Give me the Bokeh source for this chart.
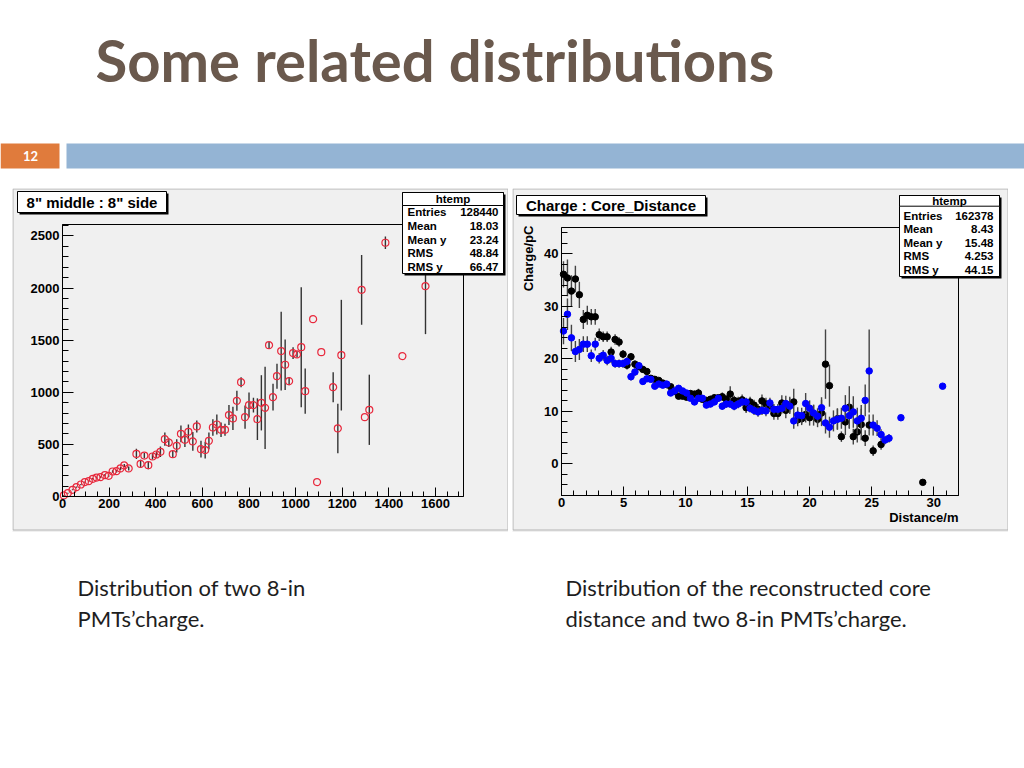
from bokeh.plotting import figure
from bokeh.models import (Range1d, FixedTicker, Label, BoxAnnotation, ColumnDataSource, Spacer,
                          LinearAxis)
from bokeh.layouts import column, row
from bokeh.embed import file_html
from bokeh.resources import INLINE
from bokeh.core.properties import value

# ---------------- data ----------------
slide_title = "Some related distributions"
slide_number = "12"
caption_left = ["Distribution of two 8-in", "PMTs\u2019charge."]
caption_right = ["Distribution of the reconstructed core", "distance and two 8-in PMTs\u2019charge."]

# left: 8" middle vs 8" side charge profile
mid_x = [6, 23, 43, 60, 79, 96, 113, 130, 146, 163, 182, 198, 215, 232, 249, 265, 284,
         317, 335, 351, 368, 386, 403, 420, 439, 456, 473, 490, 508, 525, 540, 559, 576,
         594, 612, 628, 645, 662, 680, 697, 714, 731, 748, 766, 783, 800, 819, 836, 853,
         869, 886, 903, 920, 938, 955, 972, 989, 1006, 1024, 1041, 1075, 1092, 1110, 1161,
         1181, 1196, 1283, 1297, 1316, 1385, 1458, 1557]
mid_y = [10, 32, 64, 90, 115, 138, 147, 170, 182, 186, 205, 198, 240, 243, 269, 298, 269,
         409, 313, 393, 301, 384, 403, 429, 550, 518, 406, 486, 601, 544, 621, 528, 672,
         454, 445, 534, 662, 691, 640, 640, 781, 749, 918, 1097, 761, 877, 877, 742, 899,
         851, 1452, 953, 1155, 1395, 1264, 1107, 1376, 1363, 1433, 1011, 1702, 138, 1385, 1049,
         653, 1356, 1983, 761, 832, 2435, 1347, 2018]
mid_err = [5, 5, 5, 5, 6, 6, 6, 8, 8, 8, 10, 10, 12, 12, 14, 15, 20,
           48, 40, 25, 40, 30, 30, 50, 64, 42, 30, 64, 80, 70, 70, 90, 58,
           80, 80, 80, 80, 96, 70, 58, 96, 112, 96, 48, 112, 120, 70, 200, 265,
           395, 30, 128, 120, 377, 243, 40, 56, 30, 576, 217, 0, 0, 0, 144,
           237, 531, 335, 0, 337, 61, 0, 460]
left_stats = [("Entries", "128440"), ("Mean", "18.03"), ("Mean y", "23.24"),
              ("RMS", "48.84"), ("RMS y", "66.47")]

# right: charge vs core distance, two PMTs
black_x = [0.16, 0.48, 0.80, 1.12, 1.44, 1.76, 2.08, 2.40, 2.72, 3.04,
           3.36, 3.68, 4.00, 4.32, 4.64, 4.96, 5.28, 5.60, 5.92, 6.24,
           6.56, 6.88, 7.20, 7.52, 7.84, 8.16, 8.48, 8.80, 9.12, 9.44,
           9.76, 10.08, 10.40, 10.72, 11.04, 11.36, 11.68, 12.00, 12.32, 12.64,
           12.96, 13.28, 13.60, 13.92, 14.24, 14.56, 14.88, 15.20, 15.52, 15.84,
           16.16, 16.48, 16.80, 17.12, 17.44, 17.76, 18.08, 18.40, 18.72, 19.04,
           19.36, 19.68, 20.00, 20.32, 20.64, 20.96, 21.28, 21.60, 22.24, 22.56,
           22.88, 23.20, 23.52, 23.84, 24.16, 24.48, 24.80, 25.12, 25.76, 29.12]
black_y = [36.1, 35.4, 32.9, 35.2, 32.2, 27.5, 28.3, 28.0, 28.0, 24.6,
           24.2, 24.2, 21.3, 23.7, 23.2, 20.9, 18.8, 20.4, 19.0, 18.5,
           18.0, 17.6, 16.3, 16.1, 15.9, 15.4, 15.1, 14.7, 13.8, 12.9,
           12.9, 12.7, 13.4, 13.3, 13.5, 12.3, 12.1, 12.3, 12.6, 12.6,
           12.8, 12.3, 13.3, 12.1, 11.9, 12.2, 10.7, 11.8, 11.2, 10.4,
           12.0, 11.4, 11.1, 9.6, 9.6, 11.6, 10.2, 11.3, 11.8, 8.4,
           8.6, 9.4, 8.8, 9.3, 8.5, 9.7, 19.0, 14.9, 8.6, 5.2,
           8.0, 10.8, 5.2, 6.1, 7.5, 4.9, 7.4, 2.5, 3.7, -3.5]
black_err = [2.5, 3.5, 3.0, 2.5, 2.5, 1.8, 1.8, 1.5, 1.5, 1.2,
             1.0, 1.0, 1.0, 1.0, 0.9, 0.8, 0.8, 0.7, 0.7, 0.6,
             0.6, 0.6, 0.5, 0.5, 0.5, 0.5, 0.5, 0.5, 0.5, 0.5,
             0.5, 0.5, 0.6, 0.6, 0.8, 0.6, 0.6, 0.7, 0.7, 0.7,
             0.8, 0.8, 1.5, 0.9, 0.9, 1.0, 1.0, 1.0, 1.0, 1.0,
             1.2, 1.2, 1.2, 1.2, 1.2, 1.5, 1.5, 1.5, 2.5, 1.2,
             1.2, 1.5, 1.5, 2.0, 1.5, 2.5, 6.6, 4.0, 2.0, 1.0,
             2.5, 4.0, 1.5, 2.0, 3.0, 1.5, 2.0, 1.0, 1.0, 0.0]
blue_x = [0.16, 0.48, 0.80, 1.12, 1.44, 1.76, 2.08, 2.40, 2.72, 3.04,
          3.36, 3.68, 4.00, 4.32, 4.64, 4.96, 5.28, 5.60, 5.92, 6.24,
          6.56, 6.88, 7.20, 7.52, 7.84, 8.16, 8.48, 8.80, 9.12, 9.44,
          9.76, 10.08, 10.40, 10.72, 11.04, 11.36, 11.68, 12.00, 12.32, 12.64,
          12.96, 13.28, 13.60, 13.92, 14.24, 14.56, 14.88, 15.20, 15.52, 15.84,
          16.16, 16.48, 16.80, 17.12, 17.44, 17.76, 18.08, 18.40, 18.72, 19.04,
          19.36, 19.68, 20.00, 20.32, 20.64, 20.96, 21.28, 21.60, 21.92, 22.24,
          22.56, 22.88, 23.20, 23.52, 23.84, 24.16, 24.48, 24.80, 25.12, 25.44,
          25.76, 26.08, 26.40, 27.36, 30.72]
blue_y = [25.3, 28.5, 24.0, 21.4, 21.8, 22.8, 22.8, 20.6, 22.8, 20.1,
          20.7, 19.7, 20.1, 19.1, 19.1, 19.1, 19.5, 16.6, 17.5, 18.7,
          15.7, 16.2, 16.1, 14.8, 15.2, 15.0, 15.2, 13.5, 13.9, 14.4,
          13.9, 13.5, 12.5, 11.8, 12.5, 12.5, 11.2, 11.4, 11.8, 12.5,
          11.0, 11.4, 11.4, 11.0, 11.4, 11.8, 11.8, 10.6, 10.2, 9.9,
          10.2, 10.1, 11.6, 10.4, 10.4, 10.6, 11.5, 11.0, 8.2, 9.3,
          9.2, 11.5, 10.6, 9.7, 9.1, 10.7, 7.8, 7.0, 8.2, 8.5,
          8.7, 10.6, 9.2, 9.9, 8.2, 8.7, 12.1, 17.7, 7.4, 6.8,
          5.6, 4.55, 4.9, 8.8, 14.8]
blue_err = [2.5, 3.0, 2.5, 2.0, 2.0, 1.5, 1.5, 1.2, 1.2, 1.0,
            1.0, 0.9, 0.9, 0.8, 0.8, 0.8, 0.8, 0.7, 0.7, 0.6,
            0.6, 0.6, 0.5, 0.5, 0.5, 0.5, 0.5, 0.5, 0.5, 0.5,
            0.5, 0.5, 0.5, 0.5, 0.6, 0.6, 0.6, 0.6, 0.6, 0.7,
            0.7, 0.7, 0.7, 0.8, 0.8, 0.8, 0.8, 0.8, 0.9, 0.9,
            0.9, 1.0, 1.0, 1.0, 1.0, 1.0, 1.5, 1.5, 1.5, 1.5,
            1.5, 2.0, 1.5, 1.5, 1.5, 2.0, 2.0, 2.0, 2.0, 2.0,
            2.0, 2.5, 2.5, 3.0, 2.5, 2.5, 3.0, 7.9, 2.0, 1.5,
            1.0, 0.8, 0.8, 0.0, 0.0]
right_stats = [("Entries", "162378"), ("Mean", "8.43"), ("Mean y", "15.48"),
               ("RMS", "4.253"), ("RMS y", "44.15")]

left_xrange = (0, 1720)
left_yrange = (0, 2610)
left_xticks = [0, 200, 400, 600, 800, 1000, 1200, 1400, 1600]
left_yticks = [0, 500, 1000, 1500, 2000, 2500]
right_xrange = (0, 32)
right_yrange = (-6, 45)
right_xticks = [0, 5, 10, 15, 20, 25, 30]
right_yticks = [0, 10, 20, 30, 40]

FONT = "Liberation Sans"
BG = "#f0f0f0"
PW, PH = 496, 344          # size of each ROOT canvas
ROW_TOP = 188              # page y of the plot row


def errsrc(xs, ys, es):
    return ColumnDataSource(dict(x=xs, y=ys,
                                 lo=[y - e for y, e in zip(ys, es)],
                                 hi=[y + e for y, e in zip(ys, es)]))


def root_figure(xr, yr, ml, mr, mt, mb):
    """canvas-filling frame; ROOT frame area sits at the given pixel margins"""
    sx = (xr[1] - xr[0]) / (PW - ml - mr)
    sy = (yr[1] - yr[0]) / (PH - mt - mb)
    p = figure(width=PW, height=PH,
               x_range=Range1d(xr[0] - ml * sx, xr[1] + mr * sx),
               y_range=Range1d(yr[0] - mb * sy, yr[1] + mt * sy),
               min_border=0, toolbar_location=None, output_backend="svg",
               x_axis_location=None, y_axis_location=None)
    p.background_fill_color = BG
    p.border_fill_color = BG
    p.outline_line_color = None
    p.xgrid.grid_line_color = None
    p.ygrid.grid_line_color = None
    return p


def add_axes(p, xr, yr, xticks, xminor, yticks, yminor):
    xa = LinearAxis(fixed_location=yr[0], bounds=xr,
                    ticker=FixedTicker(ticks=xticks, minor_ticks=xminor))
    ya = LinearAxis(fixed_location=xr[0], bounds=yr,
                    ticker=FixedTicker(ticks=yticks, minor_ticks=yminor))
    for ax in (xa, ya):
        ax.axis_line_color = "black"
        ax.axis_line_width = 1
        ax.major_tick_out = 0
        ax.minor_tick_out = 0
        ax.major_tick_line_color = "black"
        ax.minor_tick_line_color = "black"
        ax.major_label_text_font = FONT
        ax.major_label_text_font_style = "bold"
        ax.major_label_text_font_size = "13px"
        ax.major_label_text_color = "black"
    xa.major_tick_in = 9
    xa.minor_tick_in = 5
    xa.major_label_standoff = 2
    ya.major_tick_in = 11
    ya.minor_tick_in = 6
    ya.major_label_standoff = 3
    p.add_layout(xa, "below")
    p.add_layout(ya, "left")
    # frame top / right edges
    p.add_layout(BoxAnnotation(left=xr[0], right=xr[1], bottom=yr[0], top=yr[1],
                               fill_color=None, fill_alpha=0, line_color="black",
                               line_alpha=1, line_width=1, level="underlay"))


class Panel:
    """ROOT-like boxes / texts placed in page pixels"""
    def __init__(self, p, page_left):
        self.p = p
        self.fl = page_left
        self.fb = ROW_TOP + PH

    def box(self, x0, y0, x1, y1, fill="white", line="black", shadow=2, lw=1):
        fl, fb = self.fl, self.fb
        common = dict(left_units="screen", right_units="screen",
                      top_units="screen", bottom_units="screen")
        if shadow:
            self.p.add_layout(BoxAnnotation(
                left=x0 - fl + shadow, right=x1 - fl + shadow,
                top=fb - y0 - shadow, bottom=fb - y1 - shadow,
                fill_color="black", fill_alpha=1, line_color=None, **common))
        self.p.add_layout(BoxAnnotation(
            left=x0 - fl, right=x1 - fl, top=fb - y0, bottom=fb - y1,
            fill_color=fill, fill_alpha=1 if fill else 0, line_color=line,
            line_alpha=1, line_width=lw, **common))

    def text(self, x, y, t, size="11.5px", align="left", angle=0):
        self.p.add_layout(Label(x=x - self.fl, y=self.fb - y, x_units="screen", y_units="screen",
                                text=t, text_font=FONT, text_font_style="bold", text_font_size=size,
                                text_align=align, text_baseline="middle", angle=angle,
                                text_color="black"))


# ---------------- header ----------------
header = figure(width=1024, height=188, x_range=Range1d(0, 1024), y_range=Range1d(188, 0),
                min_border=0, toolbar_location=None, output_backend="svg",
                x_axis_location=None, y_axis_location=None)
header.xgrid.grid_line_color = None
header.ygrid.grid_line_color = None
header.outline_line_color = None
header.background_fill_color = "white"
header.border_fill_color = "white"
header.text(x=[95], y=[59], text=[slide_title], text_font=value("Lato"), text_font_style="bold",
            text_font_size="58px", text_color="#6a594d", text_baseline="middle")
header.quad(left=[0], right=[59], top=[143], bottom=[168], fill_color="#e07b3c", line_color=None)
header.quad(left=[66], right=[1024], top=[143], bottom=[168], fill_color="#94b4d4", line_color=None)
header.text(x=[30], y=[155.5], text=[slide_number], text_font=value("Lato"), text_font_style="bold",
            text_font_size="13px", text_color="white", text_align="center", text_baseline="middle")

# ---------------- left plot ----------------
pl = root_figure(left_xrange, left_yrange, 50, 45, 36, 36)
add_axes(pl, left_xrange, left_yrange, left_xticks, list(range(0, 1720, 50)),
         left_yticks, list(range(0, 2610, 100)))
ls = errsrc(mid_x, mid_y, mid_err)
pl.segment(x0="x", y0="lo", x1="x", y1="hi", source=ls, line_color="#333333", line_width=1.4)
pl.scatter(x="x", y="y", source=ls, marker="circle", size=7, fill_color=None,
           line_color="#e8283c", line_width=1.2)

L = Panel(pl, 12)
L.box(12.5, 188.5, 507.5, 529.5, fill=None, line="#b4b4b4", shadow=0)
L.box(17, 191, 166, 212)
L.text(91.5, 201.5, '8" middle : 8" side', size="15px", align="center")
L.box(402, 192, 503, 273)
L.box(402, 192, 503, 205, shadow=0)
L.text(452.5, 198.8, "htemp", align="center")
for i, (k, v) in enumerate(left_stats):
    yy = 211.7 + i * 13.65
    L.text(407, yy, k)
    L.text(498, yy, v, align="right")

# ---------------- right plot ----------------
pr = root_figure(right_xrange, right_yrange, 49, 50, 39, 37)
add_axes(pr, right_xrange, right_yrange, right_xticks, list(range(0, 33)),
         right_yticks, list(range(-6, 46, 2)))
bs = errsrc(black_x, black_y, black_err)
us = errsrc(blue_x, blue_y, blue_err)
pr.segment(x0="x", y0="lo", x1="x", y1="hi", source=bs, line_color="#444444", line_width=1.4)
pr.scatter(x="x", y="y", source=bs, marker="circle", size=6.5, fill_color="black", line_color="black")
pr.segment(x0="x", y0="lo", x1="x", y1="hi", source=us, line_color="#444444", line_width=1.4)
pr.scatter(x="x", y="y", source=us, marker="circle", size=6.5, fill_color="#0000ff", line_color="#0000ff")

R = Panel(pr, 512)
R.box(512.5, 188.5, 1007.5, 529.5, fill=None, line="#b4b4b4", shadow=0)
R.box(516, 195, 705, 214)
R.text(610.5, 204.5, "Charge : Core_Distance", size="15px", align="center")
R.box(899, 195, 999, 276)
R.box(899, 195, 999, 205.7, shadow=0)
R.text(949, 200.5, "htemp", align="center")
for i, (k, v) in enumerate(right_stats):
    yy = 215 + i * 13.5
    R.text(903, yy, k)
    R.text(993, yy, v, align="right")
R.text(528, 258, "Charge/pC", size="13px", align="center", angle=1.5707963)
R.text(958, 517, "Distance/m", size="13px", align="right")

# ---------------- footer ----------------
footer = figure(width=1024, height=230, x_range=Range1d(0, 1024), y_range=Range1d(762, 532),
                min_border=0, toolbar_location=None, output_backend="svg",
                x_axis_location=None, y_axis_location=None)
footer.xgrid.grid_line_color = None
footer.ygrid.grid_line_color = None
footer.outline_line_color = None
footer.background_fill_color = "white"
footer.border_fill_color = "white"
footer.text(x=[77, 77], y=[587, 618], text=caption_left, text_font=value("Lato"),
            text_font_size="22px", text_color="#1e1e1e", text_baseline="middle")
footer.text(x=[565, 565], y=[587, 618], text=caption_right, text_font=value("Lato"),
            text_font_size="22px", text_color="#1e1e1e", text_baseline="middle")

layout = column(header,
                row(Spacer(width=12, height=PH), pl, Spacer(width=4, height=PH), pr),
                footer)

open("out.html", "w").write(file_html(layout, INLINE))
